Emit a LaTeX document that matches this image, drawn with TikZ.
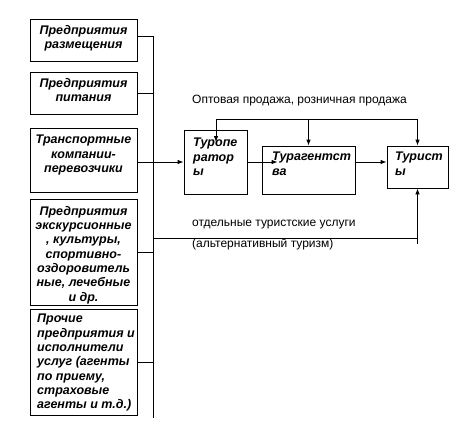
\documentclass[tikz,border=0pt]{standalone}
\usepackage{fontspec}
\setmainfont{Liberation Sans}
\usetikzlibrary{arrows.meta,calc}
\begin{document}
\begin{tikzpicture}[x=1pt,y=-1pt,
  box/.style={draw,line width=0.8pt,inner sep=0pt},
  btext/.style={inner sep=0pt,font=\fontsize{12.5}{14.3}\selectfont\bfseries\itshape},
  lbl/.style={inner sep=0pt,anchor=west,font=\fontsize{12}{14}\selectfont},
  conn/.style={line width=0.8pt},
  arr/.style={line width=0.8pt,-{Latex[length=6pt,width=4.5pt]}}]
\useasboundingbox (0,0) rectangle (466,426);
% left boxes
\node[box,minimum width=107pt,minimum height=42pt] (b1) at (83.5,40) {};
\node[box,minimum width=107pt,minimum height=42pt] (b2) at (83.5,93) {};
\node[box,minimum width=107pt,minimum height=64pt] (b3) at (83.5,160) {};
\node[box,minimum width=107pt,minimum height=106pt] (b4) at (83.5,252) {};
\node[box,minimum width=107pt,minimum height=106pt] (b5) at (83.5,362) {};
\node[btext,anchor=north,align=center] (t1) at (83.5,25) {Предприятия\\размещения};
\node[btext,anchor=north,align=center] (t2) at (83.5,78) {Предприятия\\питания};
\node[btext,anchor=north,align=center] (t3) at (83.5,135) {Транспортные\\компании-\\перевозчики};
\node[btext,anchor=north,align=center] (t4) at (83.5,206) {Предприятия\\экскурсионные\\, культуры,\\спортивно-\\оздоровитель\\ные, лечебные\\и др.};
\node[btext,anchor=north west,align=left] (t5) at (37,314) {Прочие\\предприятия и\\исполнители\\услуг (агенты\\по приему,\\страховые\\агенты и т.д.)};
% right boxes
\node[box,minimum width=63pt,minimum height=64pt] (to) at (215.5,162) {};
\node[box,minimum width=93pt,minimum height=48pt] (ta) at (308.5,170) {};
\node[box,minimum width=61pt,minimum height=42pt] (tu) at (417.5,167) {};
\node[btext,anchor=north west,align=left] (tt1) at (193,138) {Туропе\\ратор\\ы};
\node[btext,anchor=north west,align=left] (tt2) at (272,152) {Турагентст\\ва};
\node[btext,anchor=north west,align=left] (tt3) at (395,152) {Турист\\ы};
% labels
\node[lbl] (l1) at (192,101) {Оптовая продажа, розничная продажа};
\node[lbl] (l2) at (192,225) {отдельные туристские услуги};
\node[lbl] (l3) at (192,244) {(альтернативный туризм)};
% bus
\coordinate (bt) at (153,36);
\coordinate (bb) at (153,418);
\coordinate (bm) at (153,238);
\draw[conn] (bt) -- (bb);
\draw[conn] (b1.east |- bt) -- (bt);
\draw[conn] (b2.east) -- (b2.east -| bt);
\draw[arr] (b3.east |- to.west) -- (to.west);
\draw[conn] (b4.east) -- (b4.east -| bt);
\draw[conn] (b5.east) -- (b5.east -| bt);
% top distribution line
\coordinate (tl) at (216,119);
\coordinate (tr) at (tu.north |- tl);
\draw[arr] (tl) -- (tr) -- (tu.north);
\draw[arr] (tl) -- ++(0,23);
\draw[arr] (ta.north |- tl) -- (ta.north);
% chain
\draw[arr,shorten >=-16pt] (to.east) -- (to.east -| ta.west);
\draw[arr] (ta.east |- to.east) -- (tu.west |- to.east);
% bottom line
\coordinate (br) at (tu.south |- bm);
\draw[conn] (bm) -- (br);
\draw[arr] ($(br)+(0,6)$) -- (tu.south);
\end{tikzpicture}
\end{document}
